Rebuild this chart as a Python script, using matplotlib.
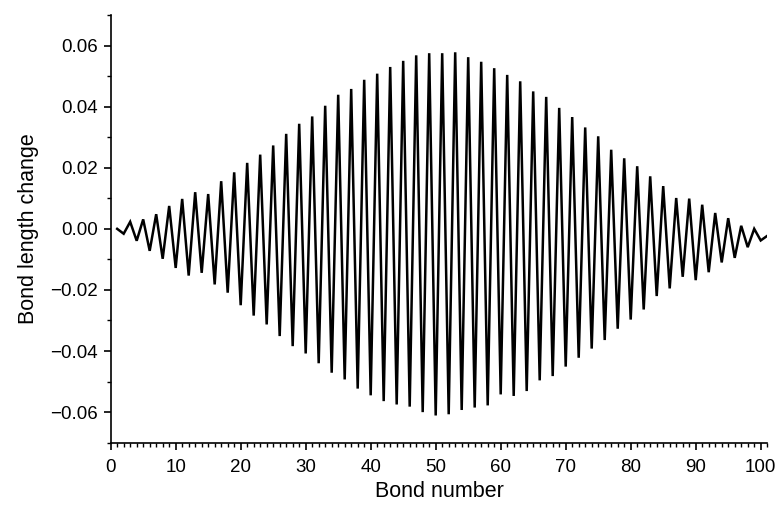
import numpy as np
import matplotlib
matplotlib.use("Agg")
import matplotlib.pyplot as plt
from matplotlib.ticker import MultipleLocator, FixedLocator

plt.rcParams['font.family'] = ['Liberation Sans', 'DejaVu Sans']

# Bond-length change on odd-numbered bonds (1, 3, ..., 101)
odd_bonds = list(range(1, 102, 2))
odd_change = [
    0.0000, 0.0023, 0.0031, 0.0048, 0.0075, 0.0098, 0.0120, 0.0114, 0.0156, 0.0185,
    0.0216, 0.0243, 0.0273, 0.0311, 0.0344, 0.0368, 0.0403, 0.0439, 0.0458, 0.0488,
    0.0508, 0.0530, 0.0550, 0.0568, 0.0575, 0.0575, 0.0578, 0.0562, 0.0547, 0.0526,
    0.0504, 0.0483, 0.0450, 0.0432, 0.0396, 0.0366, 0.0332, 0.0303, 0.0259, 0.0231,
    0.0205, 0.0172, 0.0140, 0.0101, 0.0099, 0.0079, 0.0052, 0.0035, 0.0010, 0.0000,
    -0.0023,
]

# Bond-length change on even-numbered bonds (2, 4, ..., 100)
even_bonds = list(range(2, 101, 2))
even_change = [
    -0.0016, -0.0039, -0.0072, -0.0098, -0.0128, -0.0153, -0.0144, -0.0182, -0.0209, -0.0250,
    -0.0284, -0.0313, -0.0351, -0.0384, -0.0408, -0.0440, -0.0471, -0.0493, -0.0523, -0.0545,
    -0.0564, -0.0575, -0.0582, -0.0600, -0.0611, -0.0607, -0.0593, -0.0585, -0.0578, -0.0542,
    -0.0547, -0.0531, -0.0496, -0.0482, -0.0451, -0.0422, -0.0392, -0.0364, -0.0327, -0.0297,
    -0.0264, -0.0220, -0.0195, -0.0157, -0.0168, -0.0142, -0.0110, -0.0095, -0.0060, -0.0038,
]

y_ticks = [-0.06, -0.04, -0.02, 0.00, 0.02, 0.04, 0.06]
x_ticks = [0, 10, 20, 30, 40, 50, 60, 70, 80, 90, 100]

# merge both sets into one bond-ordered series
bonds = np.array(odd_bonds + even_bonds)
change = np.array(odd_change + even_change)
order = np.argsort(bonds)
bonds, change = bonds[order], change[order]

fig = plt.figure(figsize=(7.8, 5.09), dpi=100)
ax = fig.add_axes([0.1419, 0.1303, 0.8417, 0.8402])

ax.plot(bonds, change, color='black', lw=1.8, solid_joinstyle='miter')

ax.set_xlim(0, 101)
ax.set_ylim(-0.07, 0.07)

ax.xaxis.set_major_locator(FixedLocator(x_ticks))
ax.xaxis.set_minor_locator(MultipleLocator(1))
ax.yaxis.set_major_locator(FixedLocator(y_ticks))
ax.yaxis.set_minor_locator(MultipleLocator(0.01))
ax.set_yticklabels([f"{v:.2f}".replace("-", "\u2212") if v != 0 else "0.00" for v in y_ticks])

for s in ('top', 'right'):
    ax.spines[s].set_visible(False)
for s in ('left', 'bottom'):
    ax.spines[s].set_linewidth(1.2)

ax.tick_params(axis='both', which='major', direction='out', length=5, width=1.2,
               labelsize=13.5)
ax.tick_params(axis='y', which='major', pad=4)
ax.tick_params(axis='x', which='major', pad=7)
ax.tick_params(axis='both', which='minor', direction='out', length=3, width=1.0)

ax.set_xlabel("Bond number", fontsize=15.5, labelpad=3)
ax.set_ylabel("Bond length change", fontsize=15.5, labelpad=8)

fig.savefig("out.png", dpi=100)
